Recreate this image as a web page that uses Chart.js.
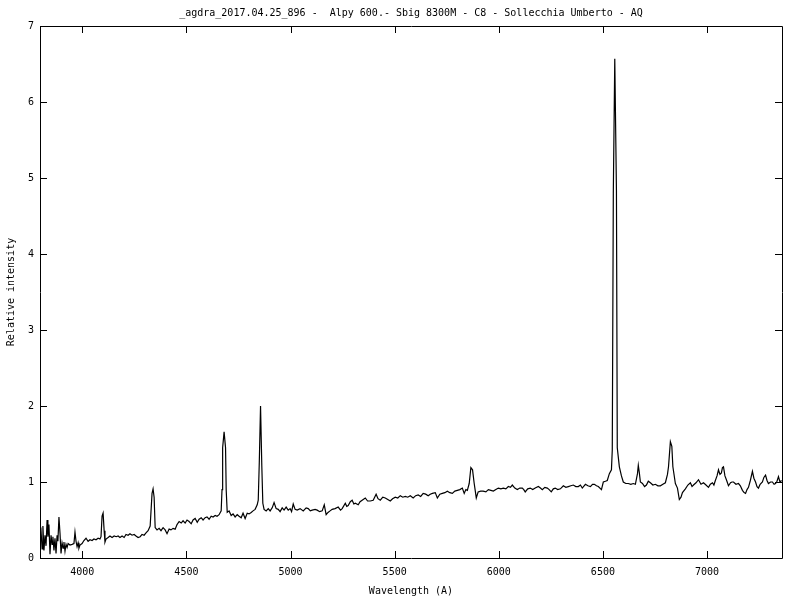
<!DOCTYPE html>
<html>
<head>
<meta charset="utf-8">
<script src="https://cdn.jsdelivr.net/npm/chart.js@4.4.1/dist/chart.umd.min.js"></script>
<style>
  html, body { margin: 0; padding: 0; background: #fff; }
  canvas { display: block; }
</style>
</head>
<body>
<canvas id="spectrum" width="800" height="600"></canvas>
<script>
// Spectrum: wavelength (A) and relative intensity
const wavelength = [
  3797, 3802, 3807, 3811, 3816, 3821, 3826, 3831, 3835, 3840, 3845, 3850, 3855, 3859, 3864, 3869,
  3874, 3879, 3883, 3888, 3893, 3898, 3903, 3908, 3912, 3917, 3922, 3927, 3932, 3941, 3951, 3960,
  3965, 3970, 3975, 3980, 3984, 3989, 3999, 4008, 4018, 4028, 4037, 4047, 4056, 4066, 4076, 4085,
  4090, 4095, 4100, 4105, 4109, 4114, 4124, 4133, 4143, 4153, 4163, 4172, 4181, 4191, 4201, 4210,
  4220, 4229, 4239, 4249, 4258, 4268, 4278, 4287, 4297, 4306, 4316, 4326, 4335, 4340, 4345, 4350,
  4359, 4369, 4378, 4388, 4398, 4407, 4417, 4426, 4436, 4446, 4455, 4465, 4475, 4484, 4494, 4503,
  4513, 4523, 4532, 4542, 4552, 4561, 4571, 4580, 4590, 4599, 4609, 4619, 4628, 4638, 4647, 4657,
  4667, 4671, 4674, 4681, 4688, 4691, 4696, 4705, 4715, 4724, 4734, 4744, 4753, 4763, 4772, 4782,
  4792, 4801, 4811, 4820, 4830, 4840, 4845, 4850, 4856, 4862, 4867, 4873, 4883, 4893, 4902, 4912,
  4921, 4931, 4941, 4950, 4960, 4969, 4979, 4989, 4998, 5005, 5013, 5022, 5032, 5046, 5061, 5075,
  5085, 5095, 5104, 5118, 5128, 5140, 5152, 5162, 5171, 5180, 5190, 5200, 5214, 5229, 5240, 5248,
  5263, 5270, 5277, 5287, 5296, 5304, 5311, 5325, 5334, 5344, 5359, 5370, 5383, 5397, 5411, 5420,
  5431, 5443, 5455, 5467, 5479, 5490, 5503, 5515, 5527, 5539, 5551, 5563, 5575, 5589, 5601, 5613,
  5625, 5637, 5649, 5661, 5671, 5681, 5695, 5705, 5717, 5729, 5741, 5753, 5765, 5777, 5789, 5801,
  5813, 5825, 5834, 5842, 5849, 5858, 5866, 5874, 5882, 5892, 5901, 5913, 5925, 5938, 5950, 5962,
  5974, 5986, 5998, 6010, 6022, 6034, 6046, 6056, 6065, 6077, 6089, 6101, 6113, 6120, 6127, 6139,
  6151, 6163, 6175, 6190, 6200, 6209, 6221, 6233, 6242, 6252, 6262, 6271, 6283, 6296, 6310, 6322,
  6334, 6346, 6358, 6370, 6382, 6392, 6401, 6416, 6428, 6440, 6450, 6459, 6469, 6478, 6493, 6502,
  6512, 6521, 6531, 6541, 6545, 6550, 6557, 6565, 6569, 6579, 6589, 6598, 6610, 6622, 6634, 6646,
  6656, 6666, 6670, 6675, 6680, 6690, 6700, 6709, 6718, 6728, 6740, 6752, 6764, 6776, 6788, 6800,
  6810, 6815, 6824, 6831, 6836, 6848, 6858, 6867, 6875, 6882, 6896, 6908, 6920, 6928, 6935, 6947,
  6959, 6971, 6983, 6995, 7007, 7016, 7026, 7033, 7040, 7048, 7055, 7062, 7069, 7074, 7079, 7086,
  7093, 7103, 7113, 7120, 7127, 7139, 7151, 7160, 7170, 7178, 7185, 7192, 7199, 7208, 7218, 7225,
  7233, 7240, 7247, 7255, 7266, 7273, 7281, 7288, 7295, 7305, 7314, 7322, 7329, 7336, 7343, 7350,
  7358
];

const intensity = [
  0.30, 0.36, 0.12, 0.42, 0.10, 0.30, 0.16, 0.50, 0.28, 0.44, 0.05, 0.30, 0.18, 0.28, 0.10, 0.26,
  0.06, 0.30, 0.22, 0.54, 0.33, 0.06, 0.20, 0.13, 0.21, 0.09, 0.18, 0.14, 0.19, 0.17, 0.18, 0.19,
  0.34, 0.22, 0.15, 0.20, 0.13, 0.17, 0.19, 0.23, 0.26, 0.22, 0.24, 0.23, 0.25, 0.24, 0.26, 0.25,
  0.28, 0.55, 0.59, 0.36, 0.21, 0.25, 0.27, 0.29, 0.27, 0.29, 0.28, 0.29, 0.27, 0.29, 0.27, 0.31,
  0.30, 0.32, 0.30, 0.31, 0.29, 0.27, 0.28, 0.31, 0.30, 0.33, 0.36, 0.42, 0.85, 0.91, 0.80, 0.40,
  0.37, 0.39, 0.36, 0.40, 0.37, 0.32, 0.38, 0.37, 0.39, 0.38, 0.44, 0.48, 0.46, 0.49, 0.46, 0.50,
  0.48, 0.45, 0.50, 0.52, 0.47, 0.51, 0.53, 0.50, 0.53, 0.54, 0.51, 0.55, 0.54, 0.56, 0.55, 0.57,
  0.62, 0.90, 1.45, 1.66, 1.45, 0.90, 0.60, 0.62, 0.56, 0.58, 0.54, 0.57, 0.55, 0.53, 0.59, 0.52,
  0.59, 0.58, 0.60, 0.62, 0.64, 0.70, 0.76, 1.26, 2.00, 1.22, 0.72, 0.64, 0.62, 0.65, 0.62, 0.66,
  0.73, 0.65, 0.64, 0.61, 0.66, 0.63, 0.67, 0.63, 0.65, 0.61, 0.71, 0.64, 0.63, 0.65, 0.62, 0.66,
  0.65, 0.62, 0.63, 0.64, 0.63, 0.61, 0.62, 0.70, 0.57, 0.60, 0.62, 0.64, 0.65, 0.67, 0.63, 0.65,
  0.72, 0.68, 0.69, 0.74, 0.76, 0.71, 0.72, 0.70, 0.74, 0.76, 0.79, 0.75, 0.75, 0.76, 0.84, 0.78,
  0.76, 0.80, 0.79, 0.77, 0.75, 0.78, 0.80, 0.79, 0.82, 0.80, 0.81, 0.80, 0.82, 0.79, 0.82, 0.83,
  0.81, 0.85, 0.84, 0.82, 0.84, 0.85, 0.86, 0.79, 0.84, 0.85, 0.86, 0.88, 0.86, 0.85, 0.88, 0.89,
  0.90, 0.92, 0.85, 0.90, 0.89, 0.98, 1.19, 1.16, 0.98, 0.79, 0.87, 0.88, 0.88, 0.87, 0.90, 0.89,
  0.88, 0.90, 0.92, 0.91, 0.92, 0.91, 0.94, 0.93, 0.96, 0.92, 0.90, 0.92, 0.92, 0.90, 0.87, 0.91,
  0.92, 0.90, 0.92, 0.94, 0.92, 0.90, 0.93, 0.92, 0.90, 0.87, 0.91, 0.92, 0.90, 0.91, 0.95, 0.93,
  0.94, 0.95, 0.96, 0.94, 0.94, 0.96, 0.92, 0.97, 0.95, 0.94, 0.97, 0.97, 0.95, 0.94, 0.90, 1.00,
  1.01, 1.02, 1.11, 1.16, 1.42, 4.80, 6.57, 4.84, 1.45, 1.20, 1.08, 1.00, 0.98, 0.98, 0.97, 0.98,
  0.97, 1.11, 1.22, 1.12, 1.00, 0.98, 0.94, 0.96, 1.01, 0.99, 0.96, 0.97, 0.95, 0.95, 0.97, 0.99,
  1.10, 1.20, 1.53, 1.47, 1.20, 0.98, 0.92, 0.77, 0.80, 0.86, 0.91, 0.96, 0.99, 0.94, 0.96, 0.99,
  1.03, 0.97, 0.99, 0.96, 0.93, 0.97, 0.99, 0.96, 1.02, 1.08, 1.16, 1.10, 1.12, 1.19, 1.20, 1.08,
  1.03, 0.95, 0.99, 1.00, 1.00, 0.97, 0.98, 0.95, 0.89, 0.86, 0.85, 0.90, 0.93, 1.02, 1.14, 1.05,
  1.00, 0.94, 0.92, 0.97, 1.00, 1.06, 1.09, 1.02, 0.98, 1.00, 1.00, 0.97, 0.98, 1.01, 1.07, 1.00,
  1.02
];

// axis ranges and tick values
const xRange = [3797, 7360];
const yRange = [0, 7];
const xTicks = [4000, 4500, 5000, 5500, 6000, 6500, 7000];
const yTicks = [0, 1, 2, 3, 4, 5, 6, 7];

const titleText = "_agdra_2017.04.25_896 -  Alpy 600.- Sbig 8300M - C8 - Sollecchia Umberto - AQ";
const monoFont = { family: "'DejaVu Sans Mono', monospace", size: 10, weight: "normal", lineHeight: 1.2 };

// gnuplot-like frame with inward ticks on all four sides
const frameTicks = {
  id: "frameTicks",
  afterDraw(chart) {
    const { ctx, chartArea: a, scales } = chart;
    const len = 7;
    ctx.save();
    ctx.strokeStyle = "#000";
    ctx.lineWidth = 1;
    ctx.beginPath();
    ctx.rect(Math.round(a.left) + 0.5, Math.round(a.top) + 0.5,
      Math.round(a.right - a.left), Math.round(a.bottom - a.top));
    scales.x.ticks.forEach((t) => {
      const px = Math.round(scales.x.getPixelForValue(t.value)) + 0.5;
      ctx.moveTo(px, a.bottom);
      ctx.lineTo(px, a.bottom - len);
      ctx.moveTo(px, a.top);
      ctx.lineTo(px, a.top + len);
    });
    scales.y.ticks.forEach((t) => {
      const py = Math.round(scales.y.getPixelForValue(t.value)) + 0.5;
      ctx.moveTo(a.left, py);
      ctx.lineTo(a.left + len, py);
      ctx.moveTo(a.right, py);
      ctx.lineTo(a.right - len, py);
    });
    ctx.stroke();
    ctx.restore();
  },
};

new Chart(document.getElementById("spectrum"), {
  type: "line",
  data: {
    datasets: [
      {
        data: wavelength.map((w, i) => ({ x: w, y: intensity[i] })),
        borderColor: "#000",
        borderWidth: 1.2,
        pointRadius: 0,
        tension: 0,
        fill: false,
      },
    ],
  },
  options: {
    responsive: false,
    animation: false,
    devicePixelRatio: 1,
    layout: { padding: { right: 18 } },
    plugins: {
      legend: { display: false },
      tooltip: { enabled: false },
      title: {
        display: true,
        text: titleText,
        color: "#000",
        font: monoFont,
        fullSize: false,
        padding: { top: 7, bottom: 7 },
      },
    },
    scales: {
      x: {
        type: "linear",
        min: xRange[0],
        max: xRange[1],
        afterBuildTicks: (scale) => { scale.ticks = xTicks.map((v) => ({ value: v })); },
        afterFit: (scale) => { scale.height = 42; },
        grid: { display: false, drawTicks: false },
        border: { display: false },
        ticks: { color: "#000", font: monoFont, padding: 8, maxRotation: 0, callback: (v) => String(v) },
        title: {
          display: true,
          text: "Wavelength (A)",
          color: "#000",
          font: monoFont,
          padding: { top: 0, bottom: 3 },
        },
      },
      y: {
        min: yRange[0],
        max: yRange[1],
        afterBuildTicks: (scale) => { scale.ticks = yTicks.map((v) => ({ value: v })); },
        afterFit: (scale) => { scale.width = 40; },
        grid: { display: false, drawTicks: false },
        border: { display: false },
        ticks: { color: "#000", font: monoFont, padding: 6, callback: (v) => String(v) },
        title: {
          display: true,
          text: "Relative intensity",
          color: "#000",
          font: monoFont,
          padding: { top: 5, bottom: 0 },
        },
      },
    },
  },
  plugins: [frameTicks],
});
</script>
</body>
</html>
